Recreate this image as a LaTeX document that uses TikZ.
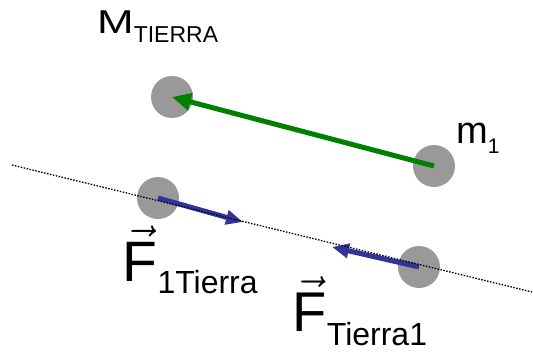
\documentclass[tikz,border=0pt]{standalone}
\usepackage{fix-cm}
\usepackage{amsmath}
\usepackage{fontspec}
\setmainfont{Liberation Sans}
\usetikzlibrary{arrows.meta}
\definecolor{grisbola}{RGB}{153,153,153}
\definecolor{verdefuerza}{RGB}{0,128,0}
\definecolor{azulfuerza}{RGB}{51,51,153}
\tikzset{
    bola/.style={circle, fill=grisbola, minimum size=42pt, inner sep=0pt},
    atraccion/.style={draw=verdefuerza, line width=5pt, -{Triangle[length=19pt, width=17pt]}},
    fuerza/.style={draw=azulfuerza, line width=5pt, -{Triangle[length=17pt, width=14pt]}},
    recta/.style={draw, line width=1.3pt, dash pattern=on 1.5pt off 1.5pt},
    etiqueta/.style={anchor=base west, inner sep=0pt}
}

\begin{document}
\begin{tikzpicture}[x=1pt, y=-1pt]
    \useasboundingbox (0,0) rectangle (533,351);

    % Masas
    \node[bola] (tierra) at (172,97) {};
    \node[bola] (masa) at (434,166) {};
    \node[bola] (tierraB) at (158,198) {};
    \node[bola] (masaB) at (419,267) {};

    % Fuerzas
    \draw[atraccion] (masa.center) -- (tierra.center);
    \coordinate (puntaUno) at (243,222);
    \coordinate (puntaDos) at (332,247);
    \draw[fuerza] (tierraB.center) -- (puntaUno);
    \draw[fuerza] (masaB.center) -- (puntaDos);

    % Recta que une las masas
    \coordinate (rectaIni) at (12,165);
    \coordinate (rectaFin) at (532,292);
    \draw[recta] (rectaIni) -- (rectaFin);

    % Etiquetas
    \node[etiqueta, font=\fontsize{33}{33}\selectfont] (etiqTierra) at (97,33)
        {\scalebox{1.33}[1]{M}\raisebox{-9pt}{\fontsize{23}{23}\selectfont TIERRA}};
    \node[etiqueta, font=\fontsize{38}{38}\selectfont] (etiqMasa) at (456,143)
        {m\raisebox{-10pt}{\fontsize{21}{21}\selectfont 1}};
    \node[etiqueta, font=\fontsize{57}{57}\selectfont] (etiqFUno) at (122.5,281)
        {$\vec{\text{F}}$\raisebox{-12pt}{\fontsize{32}{32}\selectfont 1Tierra}};
    \node[etiqueta, font=\fontsize{56}{56}\selectfont] (etiqFDos) at (292.5,331)
        {$\vec{\text{F}}$\raisebox{-14pt}{\fontsize{32}{32}\selectfont Tierra1}};
\end{tikzpicture}
\end{document}
